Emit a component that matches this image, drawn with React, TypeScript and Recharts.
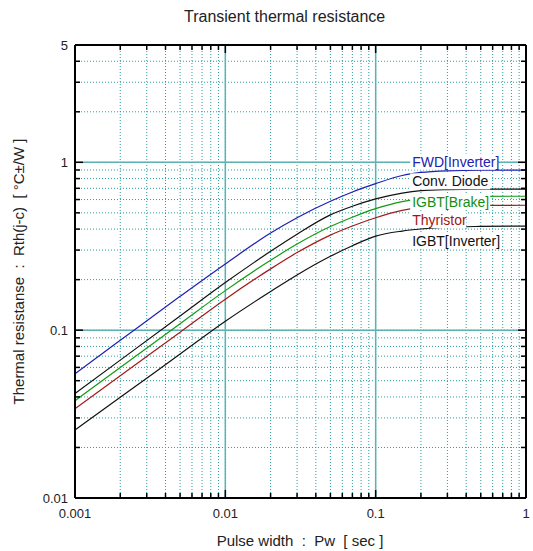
import React from 'react';
import { LineChart, Line, XAxis, YAxis, CartesianGrid, ReferenceLine, ReferenceDot } from 'recharts';

// pulse width [sec]
const pulseWidth = [0.001, 0.002, 0.005, 0.01, 0.02, 0.03, 0.05, 0.07, 0.1, 0.15, 0.2, 0.3, 0.5, 1];

// Rth(j-c) [°C/W]
const fwdInverter = [0.055, 0.087, 0.159, 0.248, 0.379, 0.468, 0.586, 0.666, 0.746, 0.835, 0.87, 0.89, 0.897, 0.898];
const convDiode = [0.042, 0.0663, 0.1214, 0.192, 0.295, 0.373, 0.486, 0.547, 0.605, 0.656, 0.678, 0.688, 0.692, 0.693];
const igbtBrake = [0.038, 0.0599, 0.1093, 0.172, 0.2607, 0.3258, 0.4142, 0.4708, 0.5295, 0.5836, 0.606, 0.62, 0.627, 0.628];
const thyristor = [0.034, 0.0535, 0.0973, 0.153, 0.2318, 0.2898, 0.3684, 0.4173, 0.4677, 0.5176, 0.5388, 0.5490, 0.554, 0.555];
const igbtInverter = [0.0254, 0.0398, 0.0721, 0.113, 0.170, 0.2134, 0.2756, 0.3184, 0.3634, 0.3894, 0.4006, 0.4106, 0.415, 0.417];

const xTicks = [
  0.001, 0.002, 0.003, 0.004, 0.005, 0.006, 0.007, 0.008, 0.009,
  0.01, 0.02, 0.03, 0.04, 0.05, 0.06, 0.07, 0.08, 0.09,
  0.1, 0.2, 0.3, 0.4, 0.5, 0.6, 0.7, 0.8, 0.9, 1,
];
const yTicks = [
  0.01, 0.02, 0.03, 0.04, 0.05, 0.06, 0.07, 0.08, 0.09,
  0.1, 0.2, 0.3, 0.4, 0.5, 0.6, 0.7, 0.8, 0.9,
  1, 2, 3, 4, 5,
];
const xLabeled = [0.001, 0.01, 0.1, 1];
const yLabeled = [0.01, 0.1, 1, 5];
const xMajor = [0.01, 0.1];
const yMajor = [0.1, 1];

const series = [
  { key: 'fwd', name: 'FWD[Inverter]', values: fwdInverter, color: '#1f1fb4' },
  { key: 'conv', name: 'Conv. Diode', values: convDiode, color: '#111111' },
  { key: 'brake', name: 'IGBT[Brake]', values: igbtBrake, color: '#129a12' },
  { key: 'thy', name: 'Thyristor', values: thyristor, color: '#a41a1a' },
  { key: 'inv', name: 'IGBT[Inverter]', values: igbtInverter, color: '#111111' },
];

const curveLabels = [
  { key: 'fwd', x: 0.175, y: 1.01, w: 88, color: '#2222b0' },
  { key: 'conv', x: 0.175, y: 0.77, w: 80, color: '#111111' },
  { key: 'brake', x: 0.175, y: 0.58, w: 80, color: '#118f11' },
  { key: 'thy', x: 0.175, y: 0.453, w: 56, color: '#a01616' },
  { key: 'inv', x: 0.175, y: 0.34, w: 88, color: '#111111' },
];

const rows = pulseWidth.map((x, i) => {
  const row: any = { x };
  series.forEach((s) => { row[s.key] = s.values[i]; });
  return row;
});

const FONT = '"Liberation Sans", Arial, sans-serif';
const TEAL_DOT = '#2a9e9e';
const TEAL = '#5ab2b2';

const BottomTick = (props: any) => {
  const { x, y, payload } = props;
  const major = xLabeled.includes(payload.value);
  return (
    <g>
      <line x1={x} y1={y} x2={x} y2={y - (major ? 8 : 5)} stroke="#000" strokeWidth={1.5} />
      {major && (
        <text x={x} y={y + 19.5} textAnchor="middle" fontSize={13} fontFamily={FONT} fill="#222">
          {String(payload.value)}
        </text>
      )}
    </g>
  );
};

const TopTick = (props: any) => {
  const { x, y, payload } = props;
  const major = xLabeled.includes(payload.value);
  return <line x1={x} y1={y} x2={x} y2={y + (major ? 8 : 5)} stroke="#000" strokeWidth={1.5} />;
};

const LeftTick = (props: any) => {
  const { x, y, payload } = props;
  const major = yMajor.includes(payload.value);
  const labeled = yLabeled.includes(payload.value);
  return (
    <g>
      <line x1={x} y1={y} x2={x + (major ? 8 : 5)} y2={y} stroke="#000" strokeWidth={1.5} />
      {labeled && (
        <text x={x - 7} y={y + 4.5} textAnchor="end" fontSize={13} fontFamily={FONT} fill="#222">
          {String(payload.value)}
        </text>
      )}
    </g>
  );
};

const RightTick = (props: any) => {
  const { x, y, payload } = props;
  const major = yMajor.includes(payload.value);
  return <line x1={x} y1={y} x2={x - (major ? 8 : 5)} y2={y} stroke="#000" strokeWidth={1.5} />;
};

const makeLabelShape = (text: string, w: number, color: string) => (p: any) => (
  <g>
    <rect x={p.cx - 2} y={p.cy - 8} width={w} height={16} fill="#fff" />
    <text x={p.cx} y={p.cy + 5} fontSize={14} fontFamily={FONT} fill={color}>
      {text}
    </text>
  </g>
);

export default function App() {
  return (
    <div style={{ position: 'absolute', left: 0, top: 0, width: 533, height: 551, background: '#fff', fontFamily: FONT }}>
      <LineChart
        width={533}
        height={551}
        data={rows}
        margin={{ top: 44, right: 6, bottom: 23, left: 15 }}
      >
        <CartesianGrid stroke={TEAL_DOT} strokeDasharray="1 2" />
        <XAxis
          dataKey="x"
          type="number"
          scale="log"
          domain={[0.001, 1]}
          allowDataOverflow
          ticks={xTicks}
          interval={0}
          height={30}
          tickSize={0}
          tickMargin={0}
          tickLine={false}
          tick={<BottomTick />}
          axisLine={{ stroke: '#000', strokeWidth: 2 }}
        />
        <XAxis
          xAxisId="top"
          orientation="top"
          dataKey="x"
          type="number"
          scale="log"
          domain={[0.001, 1]}
          allowDataOverflow
          ticks={xTicks}
          interval={0}
          height={1}
          tickSize={0}
          tickMargin={0}
          tickLine={false}
          tick={<TopTick />}
          axisLine={{ stroke: '#000', strokeWidth: 2 }}
        />
        <YAxis
          type="number"
          scale="log"
          domain={[0.01, 5]}
          allowDataOverflow
          ticks={yTicks}
          interval={0}
          width={60}
          tickSize={0}
          tickMargin={0}
          tickLine={false}
          tick={<LeftTick />}
          axisLine={{ stroke: '#000', strokeWidth: 2 }}
        />
        <YAxis
          yAxisId="right"
          orientation="right"
          type="number"
          scale="log"
          domain={[0.01, 5]}
          allowDataOverflow
          ticks={yTicks}
          interval={0}
          width={1}
          tickSize={0}
          tickMargin={0}
          tickLine={false}
          tick={<RightTick />}
          axisLine={{ stroke: '#000', strokeWidth: 2 }}
        />
        {xMajor.map((v) => (
          <ReferenceLine key={'x' + v} x={v} stroke={TEAL} strokeWidth={1.5} />
        ))}
        {yMajor.map((v) => (
          <ReferenceLine key={'y' + v} y={v} stroke={TEAL} strokeWidth={1.5} />
        ))}
        {series.map((s) => (
          <Line
            key={s.key}
            dataKey={s.key}
            name={s.name}
            type="monotone"
            stroke={s.color}
            strokeWidth={1.2}
            dot={false}
            isAnimationActive={false}
          />
        ))}
        {curveLabels.map((l) => {
          const s = series.find((d) => d.key === l.key)!;
          return (
            <ReferenceDot
              key={'lbl' + l.key}
              x={l.x}
              y={l.y}
              r={0}
              zIndex={2000}
              shape={makeLabelShape(s.name, l.w, l.color)}
            />
          );
        })}
      </LineChart>
      <div style={{ position: 'absolute', left: 184, top: 8, fontSize: 16, color: '#222', whiteSpace: 'pre' }}>
        Transient thermal resistance
      </div>
      <div style={{ position: 'absolute', left: 0, width: 600, top: 532, textAlign: 'center', fontSize: 15, color: '#222', whiteSpace: 'pre' }}>
        {'Pulse width  :  Pw  [ sec ]'}
      </div>
      <div
        style={{
          position: 'absolute',
          left: 18,
          top: 272,
          width: 400,
          marginLeft: -200,
          marginTop: -9,
          textAlign: 'center',
          fontSize: 15,
          color: '#222',
          whiteSpace: 'pre',
          transform: 'rotate(-90deg)',
        }}
      >
        {'Thermal resistanse  :  Rth(j-c)  [ °C±/W ]'}
      </div>
    </div>
  );
}
